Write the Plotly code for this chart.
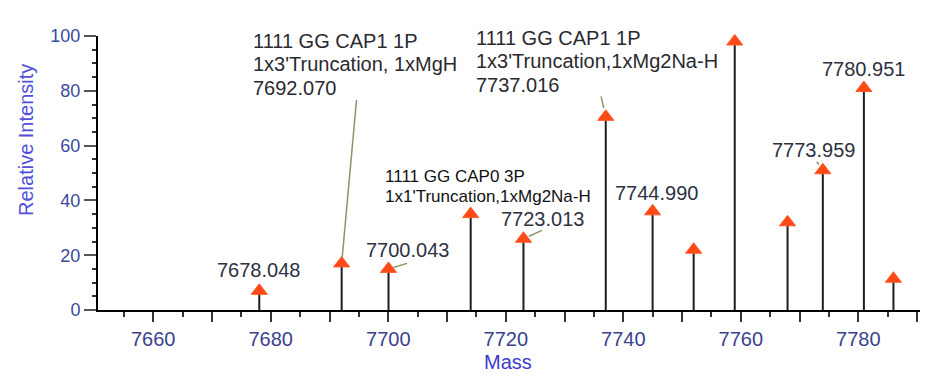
import plotly.graph_objects as go

# ---- data ----
masses = [7678.048, 7692.070, 7700.043, 7714.03, 7723.013, 7737.016, 7744.990,
          7751.98, 7758.97, 7767.96, 7773.959, 7780.951, 7785.98]
intensity = [7, 17, 15, 35, 26, 70.5, 36, 22, 98, 32, 51, 81, 11.4]

labeled_masses = [7678.048, 7700.043, 7723.013, 7744.990, 7773.959, 7780.951]

x_tickvals = [7660, 7670, 7680, 7690, 7700, 7710, 7720, 7730, 7740, 7750, 7760, 7770, 7780, 7790]
x_ticktext = ["7660", "", "7680", "", "7700", "", "7720", "", "7740", "", "7760", "", "7780", ""]

ann1_lines = ["1111 GG CAP1 1P", "1x3'Truncation, 1xMgH", "7692.070"]
ann2_lines = ["1111 GG CAP1 1P", "1x3'Truncation,1xMg2Na-H", "7737.016"]
ann3_lines = ["1111 GG CAP0 3P", "1x1'Truncation,1xMg2Na-H"]

# ---- styles / layout ----
OFF = 8  # page body margin in the browser
W, H = 935 - OFF, 381 - OFF
L, R, T, B = 98 - OFF, 15, 36 - OFF, 71
PW, PH = W - L - R, H - T - B
FONT = "Arial, Liberation Sans, sans-serif"
LABEL_COLOR = "#2d3142"
LEADER = "#86996a"

def px_to_paper(px, py):
    # px, py are screen pixel positions
    px -= OFF
    py -= OFF
    return (px - L) / PW, (H - B - py) / PH

stem_x, stem_y = [], []
for m, v in zip(masses, intensity):
    stem_x += [m, m, None]
    stem_y += [0, v, None]

fig = go.Figure()
fig.add_trace(go.Scatter(x=stem_x, y=stem_y, mode="lines",
                         line=dict(color="#1e1e1e", width=2), hoverinfo="skip",
                         showlegend=False))
fig.add_trace(go.Scatter(x=masses, y=intensity, mode="markers",
                         marker=dict(symbol="triangle-up", size=14, color="#ff4a17",
                                     line=dict(width=1, color="#ff5a2a")),
                         cliponaxis=False, showlegend=False))

annotations = []
label_offsets = {7678.048: (-1, 21), 7700.043: (19, 19), 7723.013: (19, 19.5),
                 7744.990: (4, 18.5), 7773.959: (-9.5, 20), 7780.951: (0, 19.5)}
for m in labeled_masses:
    v = intensity[masses.index(m)]
    dx, up = label_offsets[m]
    annotations.append(dict(x=m, y=v, xref="x", yref="y", text=f"{m:.3f}",
                            showarrow=False, xanchor="center", yanchor="middle",
                            xshift=dx, yshift=up,
                            font=dict(family=FONT, size=20, color=LABEL_COLOR)))

leaders = {7692.070: (15, -165, 6), 7737.016: (-5, -22, 9), 7700.043: (20, -6, 5),
           7723.013: (20, -9, 6), 7773.959: (-7, -10, 7)}
for m, (ax, ay, so) in leaders.items():
    v = intensity[masses.index(m)]
    annotations.append(dict(x=m, y=v, xref="x", yref="y", text="", showarrow=True,
                            ax=ax, ay=ay, arrowhead=0, arrowwidth=1.5,
                            arrowcolor=LEADER, standoff=so))

def add_block(lines, left_px, centers_px, size, color):
    for line, cy in zip(lines, centers_px):
        px, py = px_to_paper(left_px, cy)
        annotations.append(dict(x=px, y=py, xref="paper", yref="paper", text=line,
                                showarrow=False, xanchor="left", yanchor="middle",
                                font=dict(family=FONT, size=size, color=color)))

add_block(ann1_lines, 251, [41, 64.5, 88], 20, "#2a2a30")
add_block(ann2_lines, 474, [37.5, 61, 84.5], 20, "#2a2a30")
add_block(ann3_lines, 383, [176, 196.5], 17, "#111111")

tx, ty = px_to_paper(26, 140)
annotations.append(dict(x=tx, y=ty, xref="paper", yref="paper", text="Relative Intensity",
                        textangle=-90, showarrow=False, xanchor="center", yanchor="middle",
                        font=dict(family=FONT, size=20, color="#5050d8")))
tx, ty = px_to_paper(508, 362)
annotations.append(dict(x=tx, y=ty, xref="paper", yref="paper", text="Mass",
                        showarrow=False, xanchor="center", yanchor="middle",
                        font=dict(family=FONT, size=20, color="#3a3ad0")))

fig.update_layout(
    width=W, height=H, margin=dict(l=L, r=R, t=T, b=B),
    paper_bgcolor="white", plot_bgcolor="white",
    annotations=annotations,
    xaxis=dict(range=[7650.6, 7790.5], showgrid=False, zeroline=False,
               showline=True, linecolor="black", linewidth=2,
               tickmode="array", tickvals=x_tickvals, ticktext=x_ticktext,
               ticks="outside", ticklen=10, tickwidth=1.5, tickcolor="#333",
               minor=dict(dtick=5, tick0=7650, ticks="outside", ticklen=5,
                          tickwidth=1.5, tickcolor="#333"),
               tickfont=dict(family=FONT, size=20, color="#3b428e")),
    yaxis=dict(range=[0, 100], showgrid=False, zeroline=False,
               showline=True, linecolor="black", linewidth=2,
               dtick=20, ticks="outside", ticklen=12, tickwidth=1.5, tickcolor="#555",
               minor=dict(dtick=5, ticks="outside", ticklen=4, tickwidth=1.5,
                          tickcolor="#333"),
               tickfont=dict(family=FONT, size=18, color="#3a4a9c")),
)

fig.write_html("out.html")
